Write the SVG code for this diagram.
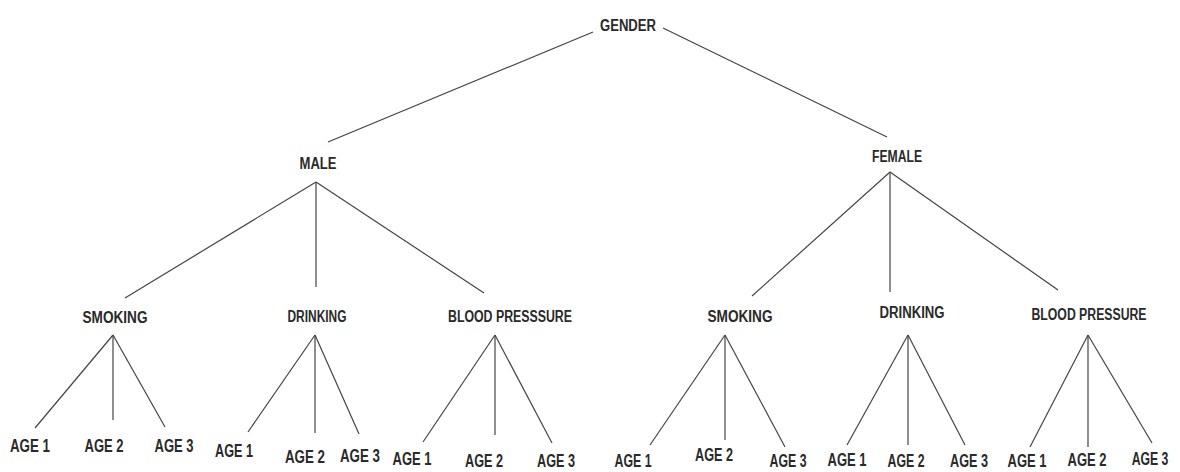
<svg xmlns="http://www.w3.org/2000/svg" width="1180" height="472" viewBox="0 0 1180 472">
<style>
text{font-family:"Liberation Sans",Arial,sans-serif;fill:#2a2a2a;text-anchor:middle;font-weight:bold}
.l{font-size:16px}
.a{font-size:18px}
.c line{stroke:#444;stroke-width:1.2;fill:none}
</style>
<rect width="1180" height="472" fill="#fff"/>
<g class="c" id="connectors">
<line x1="593" y1="32" x2="328" y2="142"/>
<line x1="663" y1="28" x2="887" y2="137"/>
<line x1="316" y1="182" x2="125" y2="298"/>
<line x1="316" y1="182" x2="316" y2="287"/>
<line x1="316" y1="182" x2="484" y2="293"/>
<line x1="890" y1="172" x2="752" y2="296"/>
<line x1="890" y1="172" x2="890" y2="292"/>
<line x1="890" y1="172" x2="1058" y2="290"/>
<line x1="113" y1="335" x2="35" y2="428"/>
<line x1="113" y1="335" x2="113" y2="420"/>
<line x1="113" y1="335" x2="165" y2="427"/>
<line x1="315" y1="335" x2="248" y2="432"/>
<line x1="315" y1="335" x2="315" y2="433"/>
<line x1="315" y1="335" x2="359" y2="434"/>
<line x1="495" y1="335" x2="423" y2="442"/>
<line x1="495" y1="335" x2="495" y2="435"/>
<line x1="495" y1="335" x2="552" y2="443"/>
<line x1="725" y1="335" x2="650" y2="445"/>
<line x1="725" y1="335" x2="725" y2="440"/>
<line x1="725" y1="335" x2="785" y2="447"/>
<line x1="908" y1="335" x2="847" y2="445"/>
<line x1="908" y1="335" x2="908" y2="445"/>
<line x1="908" y1="335" x2="965" y2="445"/>
<line x1="1088" y1="335" x2="1030" y2="447"/>
<line x1="1088" y1="335" x2="1088" y2="447"/>
<line x1="1088" y1="335" x2="1152" y2="443"/>
</g>
<g id="gender"><text class="l" x="628" y="31" textLength="56" lengthAdjust="spacingAndGlyphs">GENDER</text></g>
<g id="male"><text class="l" x="318" y="169" textLength="37" lengthAdjust="spacingAndGlyphs">MALE</text></g>
<g id="female"><text class="l" x="897" y="162" textLength="50" lengthAdjust="spacingAndGlyphs">FEMALE</text></g>
<g id="m-smoking"><text class="l" x="115" y="323" textLength="65" lengthAdjust="spacingAndGlyphs">SMOKING</text></g>
<g id="m-drinking"><text class="l" x="317" y="322" textLength="59" lengthAdjust="spacingAndGlyphs">DRINKING</text></g>
<g id="m-bp"><text class="l" x="510" y="322" textLength="124" lengthAdjust="spacingAndGlyphs">BLOOD PRESSSURE</text></g>
<g id="f-smoking"><text class="l" x="740" y="322" textLength="65" lengthAdjust="spacingAndGlyphs">SMOKING</text></g>
<g id="f-drinking"><text class="l" x="912" y="318" textLength="65" lengthAdjust="spacingAndGlyphs">DRINKING</text></g>
<g id="f-bp"><text class="l" x="1089" y="320" textLength="115" lengthAdjust="spacingAndGlyphs">BLOOD PRESSURE</text></g>
<g id="ms-a1"><text class="a" x="30" y="452" textLength="40" lengthAdjust="spacingAndGlyphs">AGE 1</text></g>
<g id="ms-a2"><text class="a" x="104" y="452" textLength="39" lengthAdjust="spacingAndGlyphs">AGE 2</text></g>
<g id="ms-a3"><text class="a" x="174" y="452" textLength="39" lengthAdjust="spacingAndGlyphs">AGE 3</text></g>
<g id="md-a1"><text class="a" x="234" y="457" textLength="38" lengthAdjust="spacingAndGlyphs">AGE 1</text></g>
<g id="md-a2"><text class="a" x="305" y="463" textLength="40" lengthAdjust="spacingAndGlyphs">AGE 2</text></g>
<g id="md-a3"><text class="a" x="360" y="462" textLength="40" lengthAdjust="spacingAndGlyphs">AGE 3</text></g>
<g id="mb-a1"><text class="a" x="412" y="465" textLength="39" lengthAdjust="spacingAndGlyphs">AGE 1</text></g>
<g id="mb-a2"><text class="a" x="484" y="467" textLength="38" lengthAdjust="spacingAndGlyphs">AGE 2</text></g>
<g id="mb-a3"><text class="a" x="556" y="467" textLength="38" lengthAdjust="spacingAndGlyphs">AGE 3</text></g>
<g id="fs-a1"><text class="a" x="633" y="467" textLength="37" lengthAdjust="spacingAndGlyphs">AGE 1</text></g>
<g id="fs-a2"><text class="a" x="714" y="461" textLength="38" lengthAdjust="spacingAndGlyphs">AGE 2</text></g>
<g id="fs-a3"><text class="a" x="788" y="467" textLength="37" lengthAdjust="spacingAndGlyphs">AGE 3</text></g>
<g id="fd-a1"><text class="a" x="847" y="466" textLength="39" lengthAdjust="spacingAndGlyphs">AGE 1</text></g>
<g id="fd-a2"><text class="a" x="906" y="467" textLength="37" lengthAdjust="spacingAndGlyphs">AGE 2</text></g>
<g id="fd-a3"><text class="a" x="969" y="467" textLength="38" lengthAdjust="spacingAndGlyphs">AGE 3</text></g>
<g id="fb-a1"><text class="a" x="1027" y="467" textLength="39" lengthAdjust="spacingAndGlyphs">AGE 1</text></g>
<g id="fb-a2"><text class="a" x="1087" y="466" textLength="39" lengthAdjust="spacingAndGlyphs">AGE 2</text></g>
<g id="fb-a3"><text class="a" transform="translate(1150,465) scale(0.68,1)" x="0" y="0">AGE 3</text></g>
</svg>
